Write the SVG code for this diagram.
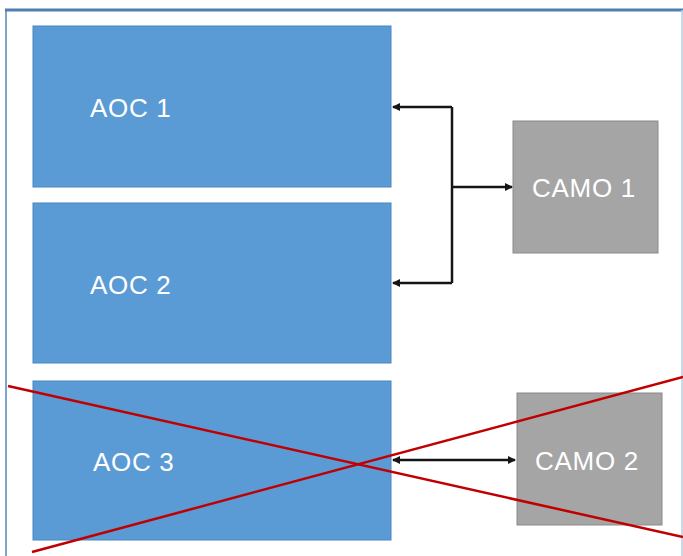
<svg xmlns="http://www.w3.org/2000/svg" width="683" height="556" viewBox="0 0 683 556">
  <style>
    .aoc { fill: #5b9bd5; stroke: #4a86c0; stroke-width: 1; }
    .camo { fill: #a5a5a5; stroke: #8a8a8a; stroke-width: 1; }
    .lbl { font-family: "Liberation Sans", Arial, sans-serif; font-size: 26px; fill: #ffffff; letter-spacing: 0.7px; }
    .conn { stroke: #151515; stroke-width: 2.5; fill: none; }
    .cross { stroke: #c00000; stroke-width: 2.5; fill: none; }
  </style>
  <defs>
    <marker id="ah" markerWidth="8" markerHeight="8" refX="7" refY="4" orient="auto-start-reverse" markerUnits="userSpaceOnUse">
      <path d="M0,0 L8,4 L0,8 Z" fill="#151515"/>
    </marker>
  </defs>
  <rect x="0" y="0" width="683" height="556" fill="#ffffff"/>
  <g id="frame">
    <line x1="6" y1="9" x2="6" y2="556" stroke="#7fa3cc" stroke-width="2"/>
    <line x1="5" y1="10" x2="683" y2="10" stroke="#4f7fb0" stroke-width="3"/>
    <line x1="682" y1="10" x2="682" y2="556" stroke="#b9cde4" stroke-width="1.5"/>
  </g>
  <g id="aoc1">
    <rect class="aoc" x="33" y="26" width="358" height="161"/>
    <text class="lbl" x="90" y="117">AOC 1</text>
  </g>
  <g id="aoc2">
    <rect class="aoc" x="33" y="203" width="358" height="160"/>
    <text class="lbl" x="90" y="294">AOC 2</text>
  </g>
  <g id="aoc3">
    <rect class="aoc" x="33" y="381" width="358" height="159"/>
    <text class="lbl" x="93" y="471">AOC 3</text>
  </g>
  <g id="camo1">
    <rect class="camo" x="513" y="121" width="145" height="132"/>
    <text class="lbl" x="532" y="197">CAMO 1</text>
  </g>
  <g id="camo2">
    <rect class="camo" x="517" y="393" width="145" height="132"/>
    <text class="lbl" x="535" y="470">CAMO 2</text>
  </g>
  <g id="connectors">
    <polyline class="conn" points="452,107 452,283"/>
    <line class="conn" x1="452" y1="107" x2="393" y2="107" marker-end="url(#ah)"/>
    <line class="conn" x1="452" y1="283" x2="393" y2="283" marker-end="url(#ah)"/>
    <line class="conn" x1="452" y1="187" x2="512" y2="187" marker-end="url(#ah)"/>
    <line class="conn" x1="393" y1="460" x2="515" y2="460" marker-start="url(#ah)" marker-end="url(#ah)"/>
  </g>
  <g id="cross">
    <line class="cross" x1="8" y1="386" x2="683" y2="537"/>
    <line class="cross" x1="32" y1="552" x2="683" y2="377"/>
  </g>
</svg>
